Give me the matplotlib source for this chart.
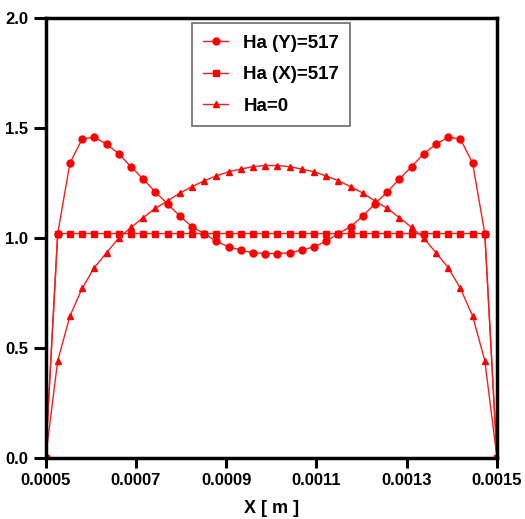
import numpy as np
import matplotlib
matplotlib.use("Agg")
import matplotlib.pyplot as plt

plt.rcParams['font.family'] = ['Liberation Sans', 'DejaVu Sans']
plt.rcParams['font.weight'] = 'bold'

# wall-to-wall positions, 38 nodes between 0.0005 and 0.0015 m
x = np.linspace(0.0005, 0.0015, 38)

# half profiles (wall -> centre), mirrored for the other half
half_hay = [0, 1.02, 1.34, 1.45, 1.458, 1.426, 1.383, 1.324, 1.268, 1.209,
            1.155, 1.10, 1.051, 1.02, 0.985, 0.96, 0.945, 0.933, 0.929]
half_hax = [0] + [1.02] * 18
half_ha0 = [0, 0.442, 0.645, 0.771, 0.865, 0.933, 0.999, 1.048, 1.092, 1.135,
            1.168, 1.204, 1.233, 1.26, 1.282, 1.301, 1.313, 1.324, 1.329]

ha_y = half_hay + half_hay[::-1]
ha_x = half_hax + half_hax[::-1]
ha_0 = half_ha0 + half_ha0[::-1]

xticks = [0.0005, 0.0007, 0.0009, 0.0011, 0.0013, 0.0015]
yticks = [0.0, 0.5, 1.0, 1.5, 2.0]

fig = plt.figure(figsize=(5.25, 5.19), dpi=100)
ax = fig.add_axes([0.0867, 0.1175, 0.86, 0.848])

red = '#ff1a1a'
ax.plot(x, ha_y, color=red, lw=1.0, marker='o', ms=5, mfc='red', mec='red', label='Ha (Y)=517')
ax.plot(x, ha_x, color=red, lw=1.0, marker='s', ms=5, mfc='red', mec='red', label='Ha (X)=517')
ax.plot(x, ha_0, color=red, lw=1.0, marker='^', ms=4.8, mfc='red', mec='red', label='Ha=0')

ax.set_xlim(0.0005, 0.0015)
ax.set_ylim(0, 2.0)
ax.set_xticks(xticks)
ax.set_xticklabels([f'{v:.4f}' for v in xticks])
ax.set_yticks(yticks)
ax.set_yticklabels([f'{v:.1f}' for v in yticks])
ax.tick_params(axis='both', labelsize=12, width=2.2, length=7, direction='out')
ax.tick_params(axis='y', length=9)
ax.set_xlabel('X [ m ]', fontsize=13, fontweight='bold', labelpad=9)

for side in ['left', 'bottom', 'top', 'right']:
    ax.spines[side].set_linewidth(2.5)

leg = ax.legend(loc='upper left', bbox_to_anchor=(0.324, 0.988), borderaxespad=0,
                fancybox=False, edgecolor='#444444',
                prop={'weight': 'bold', 'size': 13.5}, handlelength=1.35,
                handletextpad=0.8, labelspacing=0.78, borderpad=0.6)
leg.get_frame().set_linewidth(1.2)

fig.savefig('out.png', dpi=100)
